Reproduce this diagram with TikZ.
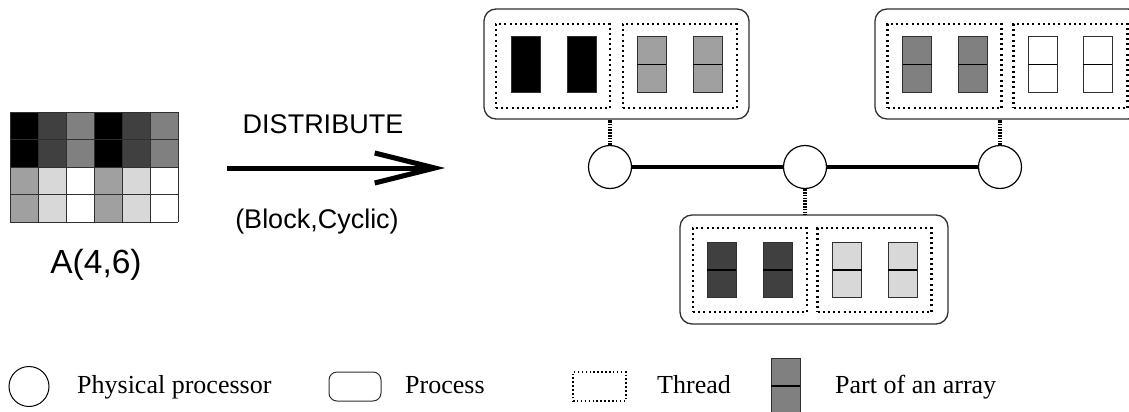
\documentclass[tikz,border=0pt]{standalone}
\usepackage{fontspec}
\setmainfont{Liberation Serif}
\newfontfamily\arialf{Liberation Sans}
\usetikzlibrary{arrows.meta}
\definecolor{cdark}{HTML}{404040}
\definecolor{cmid}{HTML}{808080}
\definecolor{clight}{HTML}{A0A0A0}
\definecolor{cpale}{HTML}{D8D8D8}
\definecolor{cedge}{HTML}{303030}
\tikzset{
  physproc/.style={circle, draw=black, line width=1.2pt, fill=white, minimum size=43pt, inner sep=0pt},
  procbox/.style={rectangle, rounded corners=12pt, draw=cedge, line width=1.3pt, inner sep=0pt},
  threadbox/.style={rectangle, draw=black, line width=2.4pt, dash pattern=on 2pt off 3.2pt, minimum width=114pt, minimum height=84pt, inner sep=0pt},
  link/.style={draw=black, line width=4.5pt, dash pattern=on 1.6pt off 1.2pt},
  bus/.style={draw=black, line width=3.2pt},
  sanslbl/.style={font=\arialf\fontsize{27pt}{30pt}\selectfont, inner sep=0pt},
  leglbl/.style={font=\fontsize{26pt}{30pt}\selectfont, inner sep=0pt, anchor=base west},
}
% bar: #1 x-center, #2 y-center, #3 colour
\newcommand{\arrpart}[3]{%
  \fill[#3] (#1-14.5,#2-27.5) rectangle (#1+14.5,#2+27.5);
  \draw[cedge, line width=1pt] (#1-14.5,#2-27.5) rectangle (#1+14.5,#2+27.5);
  \draw[black, line width=1.2pt] (#1-14.5,#2) -- (#1+14.5,#2);
}
\begin{document}
\begin{tikzpicture}[x=1pt,y=-1pt]
\useasboundingbox (0,0) rectangle (1129,412);
\clip (0,0) rectangle (1129,412);

% ---- matrix A(4,6) ----
\foreach \c/\bot [count=\i from 0] in {black/clight, cdark/cpale, cmid/white, black/clight, cdark/cpale, cmid/white}{
  \fill[\c] (10+28*\i,112) rectangle (38+28*\i,167);
  \fill[\bot] (10+28*\i,167) rectangle (38+28*\i,222);
}
\foreach \i in {0,...,6}{ \draw[cedge, line width=1pt] (10+28*\i,112) -- (10+28*\i,222); }
\foreach \j in {0,...,4}{ \draw[cedge, line width=1pt] (10,112+27.5*\j) -- (178,112+27.5*\j); }
\node[sanslbl, font=\arialf\fontsize{33.5pt}{36pt}\selectfont, anchor=base] (alabel) at (96,273) {A(4,6)};

% ---- arrow ----
\node[sanslbl, anchor=base] (dist) at (323,133) {DISTRIBUTE};
\node[sanslbl, anchor=base] (bc) at (317,228) {(Block,Cyclic)};
\coordinate (arrS) at (227,168);
\coordinate (arrE) at (445,168);
\draw[line width=5pt, -{Straight Barb[length=60pt,width=30pt,line width=5pt]}] (arrS) -- (arrE);

% ---- processors ----
\node[physproc] (p1) at (610,167) {};
\node[physproc] (p2) at (805,167) {};
\node[physproc] (p3) at (1000,167) {};
\draw[bus] (p1.east) -- (p2.west);
\draw[bus] (p2.east) -- (p3.west);

% ---- process boxes ----
\node[procbox, minimum width=265pt, minimum height=110pt] (pb1) at (616.5,64) {};
\node[procbox, minimum width=265pt, minimum height=110pt] (pb3) at (1007.5,64) {};
\node[procbox, minimum width=268pt, minimum height=109pt] (pb2) at (814,269.5) {};

% threads
\node[threadbox] (t11) at (553,66) {};
\node[threadbox] (t12) at (680,66) {};
\node[threadbox] (t31) at (944.5,66) {};
\node[threadbox] (t32) at (1070.5,66) {};
\node[threadbox] (t21) at (750,270) {};
\node[threadbox] (t22) at (874.5,270) {};

% array parts
\fill[black] (511,37) rectangle (540,92); \draw[cedge,line width=1pt] (511,37) rectangle (540,92);
\fill[black] (567,37) rectangle (596,92); \draw[cedge,line width=1pt] (567,37) rectangle (596,92);
\arrpart{651.5}{64.5}{clight}
\arrpart{707.5}{64.5}{clight}
\arrpart{917}{64.5}{cmid}
\arrpart{972.5}{64.5}{cmid}
\arrpart{1042.5}{64.5}{white}
\arrpart{1097.5}{64.5}{white}
\arrpart{721.5}{270}{cdark}
\arrpart{777.5}{270}{cdark}
\arrpart{847}{270}{cpale}
\arrpart{902.5}{270}{cpale}

% links process -> processor
\draw[link] (p1.north) -- (p1.north |- pb1.south);
\draw[link] (p3.north) -- (p3.north |- pb3.south);
\draw[link] (p2.south) -- (p2.south |- pb2.north);

% ---- legend ----
\node[physproc, minimum size=40pt, line width=1pt] (lgc) at (29,386.5) {};
\node[leglbl] (lgct) at (77,393) {Physical processor};
\node[procbox, rounded corners=8pt, line width=1pt, minimum width=52pt, minimum height=29pt] (lgp) at (355,386.5) {};
\node[leglbl] (lgpt) at (405,393) {Process};
\node[threadbox, line width=1.8pt, dash pattern=on 1.5pt off 2.4pt, minimum width=53pt, minimum height=29pt] (lgt) at (599.5,386.5) {};
\node[leglbl] (lgtt) at (657,393) {Thread};
\arrpart{785.5}{386}{cmid}
\node[leglbl] (lgat) at (835,393) {Part of an array};
\end{tikzpicture}
\end{document}
